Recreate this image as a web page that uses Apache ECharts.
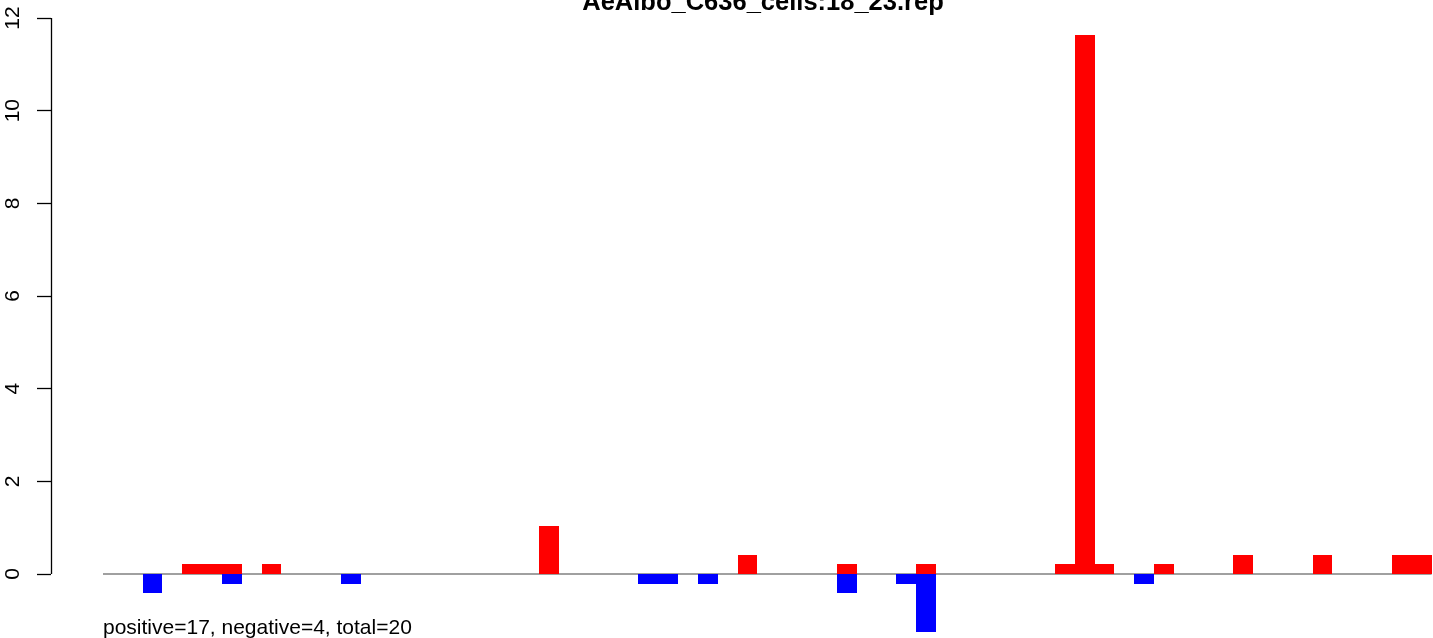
<!DOCTYPE html>
<html>
<head>
<meta charset="utf-8">
<script src="https://cdn.jsdelivr.net/npm/echarts@6/dist/echarts.min.js"></script>
<style>
html,body{margin:0;padding:0;background:#fff;}
#chart{width:1433px;height:638px;}
</style>
</head>
<body>
<div id="chart"></div>
<script>
// ---- data (one value per bin, 67 bins) ----
const titleText = "AeAlbo_C636_cells:18_23.rep";
const footnote = "positive=17, negative=4, total=20";
const yTicks = [0, 2, 4, 6, 8, 10, 12];
const positive = [
  0, 0, 0, 0, 0.21, 0.21, 0.21, 0, 0.21, 0,
  0, 0, 0, 0, 0, 0, 0, 0, 0, 0,
  0, 0, 1.04, 0, 0, 0, 0, 0, 0, 0,
  0, 0, 0.42, 0, 0, 0, 0, 0.21, 0, 0,
  0, 0.21, 0, 0, 0, 0, 0, 0, 0.21, 11.64,
  0.21, 0, 0, 0.21, 0, 0, 0, 0.42, 0, 0,
  0, 0.42, 0, 0, 0, 0.42, 0.42
];
const negative = [
  0, 0, -0.42, 0, 0, 0, -0.21, 0, 0, 0,
  0, 0, -0.21, 0, 0, 0, 0, 0, 0, 0,
  0, 0, 0, 0, 0, 0, 0, -0.21, -0.21, 0,
  -0.21, 0, 0, 0, 0, 0, 0, -0.42, 0, 0,
  -0.21, -1.25, 0, 0, 0, 0, 0, 0, 0, 0,
  0, 0, -0.21, 0, 0, 0, 0, 0, 0, 0,
  0, 0, 0, 0, 0, 0, 0
];

const nBins = positive.length;
const toPairs = arr => arr.map((v, i) => [i, v]).filter(d => d[1] !== 0);

const X_MIN = -2.622, X_MAX = 67.07;
const Y_MIN = -1.381, Y_MAX = 12.388;
const FONT = "'Liberation Sans', Arial, Helvetica, sans-serif";

function barRender(color) {
  return function (params, api) {
    const i = api.value(0), v = api.value(1);
    const p0 = api.coord([i, 0]);
    const p1 = api.coord([i + 1, v]);
    const x0 = Math.round(p0[0]), x1 = Math.round(p1[0]);
    const y0 = Math.round(p0[1]), y1 = Math.round(p1[1]);
    return {
      type: 'rect',
      shape: { x: x0, y: Math.min(y0, y1), width: x1 - x0, height: Math.abs(y1 - y0) },
      style: { fill: color }
    };
  };
}

const chart = echarts.init(document.getElementById('chart'), null, { renderer: 'canvas' });
chart.setOption({
  animation: false,
  backgroundColor: '#ffffff',
  grid: { left: 51, right: 0, top: 0, bottom: 0, containLabel: false },
  xAxis: {
    type: 'value', min: X_MIN, max: X_MAX,
    axisLine: { show: false, onZero: false }, axisTick: { show: false },
    axisLabel: { show: false }, splitLine: { show: false }
  },
  yAxis: {
    type: 'value', min: Y_MIN, max: Y_MAX,
    axisLine: { show: false, onZero: false },
    splitLine: { show: false },
    axisTick: {
      show: true, inside: false, length: 14, customValues: yTicks,
      lineStyle: { color: '#000', width: 1.3 }
    },
    axisLabel: {
      show: true, customValues: yTicks, rotate: 90,
      align: 'center', verticalAlign: 'middle', margin: 38,
      color: '#000', fontSize: 21, fontFamily: FONT
    }
  },
  series: [
    {
      type: 'line', z: 1, silent: true, symbol: 'none',
      data: [[0, 0], [nBins, 0]],
      lineStyle: { color: '#808080', width: 1.6 }
    },
    {
      type: 'custom', z: 2, renderItem: barRender('#FF0000'),
      data: toPairs(positive), encode: { x: 0, y: 1 }
    },
    {
      type: 'custom', z: 2, renderItem: barRender('#0000FF'),
      data: toPairs(negative), encode: { x: 0, y: 1 }
    }
  ]
});

const pTop = chart.convertToPixel({ gridIndex: 0 }, [X_MIN, yTicks[yTicks.length - 1]]);
const pBot = chart.convertToPixel({ gridIndex: 0 }, [X_MIN, yTicks[0]]);
const pBin0 = chart.convertToPixel({ gridIndex: 0 }, [0, 0]);

chart.setOption({
  graphic: [
    {
      type: 'line', z: 10,
      shape: { x1: pTop[0] + 0.5, y1: pTop[1], x2: pBot[0] + 0.5, y2: pBot[1] },
      style: { stroke: '#000', lineWidth: 1.3 }
    },
    {
      type: 'text', z: 10,
      style: {
        text: titleText, x: 763, y: 16,
        textAlign: 'center', textVerticalAlign: 'bottom',
        font: "bold 25.5px " + FONT, fill: '#000'
      }
    },
    {
      type: 'text', z: 10,
      style: {
        text: footnote, x: pBin0[0], y: 639,
        textAlign: 'left', textVerticalAlign: 'bottom',
        font: "21px " + FONT, fill: '#000'
      }
    }
  ]
});
</script>
</body>
</html>
